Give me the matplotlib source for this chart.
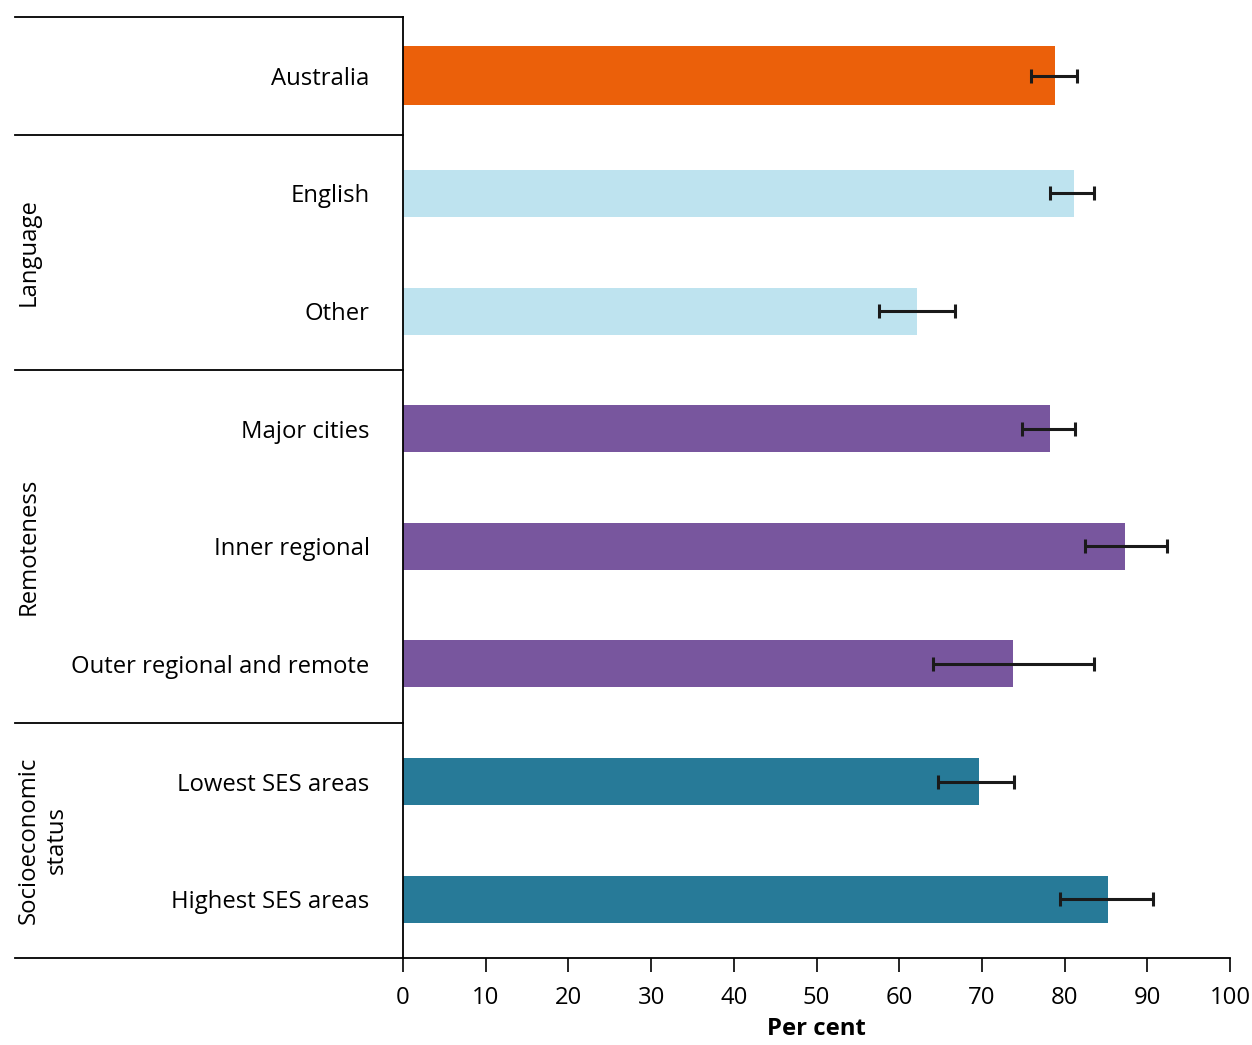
import numpy as np
import matplotlib
matplotlib.use("Agg")
import matplotlib.pyplot as plt
import matplotlib.transforms as mtransforms

plt.rcParams['font.family'] = ['Open Sans', 'DejaVu Sans']

# Données (pour cent, avec intervalles de confiance)
categories = ['Australia', 'English', 'Other', 'Major cities', 'Inner regional',
              'Outer regional and remote', 'Lowest SES areas', 'Highest SES areas']
valeurs = [78.8, 81.1, 62.2, 78.2, 87.3, 73.8, 69.6, 85.3]
ic_bas = [75.9, 78.2, 57.5, 74.9, 82.5, 64.1, 64.7, 79.5]
ic_haut = [81.5, 83.5, 66.8, 81.2, 92.4, 83.5, 73.9, 90.7]
groupes = ['Australia', 'Language', 'Language', 'Remoteness', 'Remoteness',
           'Remoteness', 'SES', 'SES']
libelles_groupes = {'Language': 'Language', 'Remoteness': 'Remoteness',
                    'SES': 'Socioeconomic\nstatus'}
graduations = [0, 10, 20, 30, 40, 50, 60, 70, 80, 90, 100]

couleurs_groupes = {'Australia': '#EB600A', 'Language': '#BEE3EF',
                    'Remoteness': '#78569E', 'SES': '#277A98'}

taille = 17.2

fig = plt.figure(figsize=(12.52, 10.45), dpi=100)
ax = fig.add_axes([403 / 1252, 1 - 958 / 1045, 827 / 1252, 941 / 1045])

y = np.arange(len(categories))
hauteurs = [0.5 if g == 'Australia' else 0.4 for g in groupes]
couleurs = [couleurs_groupes[g] for g in groupes]

ax.barh(y, valeurs, height=hauteurs, color=couleurs, zorder=2)

v = np.array(valeurs)
erreurs = [v - np.array(ic_bas), np.array(ic_haut) - v]
ax.errorbar(valeurs, y, xerr=erreurs, fmt='none', ecolor='#1a1a1a',
            elinewidth=2.2, capsize=4.7, capthick=2.2, zorder=3)

ax.set_xlim(0, 100)
ax.set_ylim(len(categories) - 0.5, -0.5)
ax.set_xticks(graduations)
ax.set_yticks(y)
ax.set_yticklabels(categories)

ax.tick_params(axis='y', length=0, pad=24, labelsize=taille)
ax.tick_params(axis='x', length=10, width=1.2, pad=10, labelsize=taille,
               direction='out')
ax.set_xlabel('Per cent', fontsize=taille, fontweight='bold', labelpad=5)

for cote in ['top', 'right']:
    ax.spines[cote].set_visible(False)
ax.spines['left'].set_linewidth(1.3)
ax.spines['bottom'].set_linewidth(1.3)

# Lignes de séparation des groupes dans la zone des libellés
trans = mtransforms.blended_transform_factory(ax.transAxes, ax.transData)
x_gauche = (15 - 403) / 827
limites = [-0.5, 0.5, 2.5, 5.5, 7.5]
for lim in limites:
    ax.plot([x_gauche, 0], [lim, lim], color='black', linewidth=1.3,
            transform=trans, clip_on=False)

# Libellés des groupes, écrits verticalement
x_texte = 17 / 1252
for g, lib in libelles_groupes.items():
    idx = [i for i, gg in enumerate(groupes) if gg == g]
    centre = (idx[0] + idx[-1]) / 2
    y_fig = fig.transFigure.inverted().transform(
        ax.transData.transform((0, centre)))[1]
    fig.text(x_texte, y_fig, lib, rotation=90, fontsize=taille, ha='left',
             va='center', multialignment='center')

fig.savefig('out.png', dpi=100)
